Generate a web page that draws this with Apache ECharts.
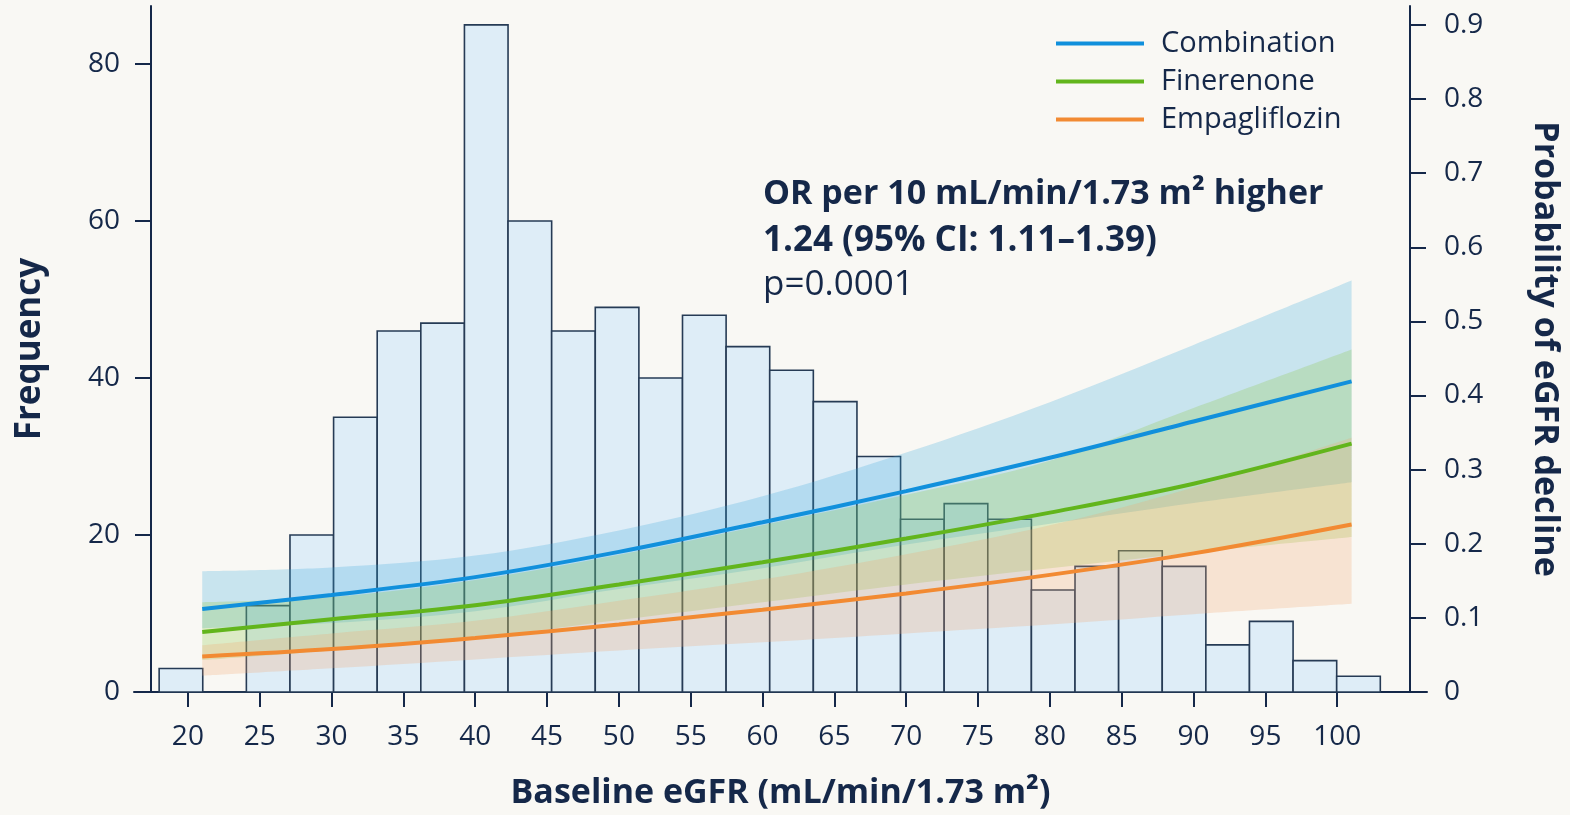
<!DOCTYPE html>
<html>
<head>
<meta charset="utf-8">
<script src="https://cdn.jsdelivr.net/npm/echarts@6/dist/echarts.min.js"></script>
<style>
  html, body { margin: 0; padding: 0; background: #f9f8f4; }
  #chart { width: 1570px; height: 815px; }
</style>
</head>
<body>
<div id="chart"></div>
<script>
// histogram of baseline eGFR: 28 equal bins between 18 and 103
const binLow = 18
const binHigh = 103
const binCounts = [3, 0, 11, 20, 35, 46, 47, 85, 60, 46, 49, 40, 48, 44, 41, 37, 30, 22, 24, 22, 13, 16, 18, 16, 6, 9, 4, 2]

// modelled probability of eGFR decline, read at these eGFR values
const curveX = [21, 30, 40, 50, 60, 70, 80, 90, 101]
const combination = [0.112, 0.131, 0.155, 0.189, 0.229, 0.271, 0.316, 0.365, 0.419]
const combinationLow = [0.086, 0.093, 0.109, 0.139, 0.167, 0.199, 0.227, 0.255, 0.283]
const combinationHigh = [0.163, 0.168, 0.184, 0.218, 0.264, 0.323, 0.391, 0.468, 0.555]
const finerenone = [0.081, 0.098, 0.117, 0.145, 0.175, 0.207, 0.242, 0.281, 0.335]
const finerenoneLow = [0.043, 0.056, 0.073, 0.097, 0.121, 0.145, 0.167, 0.188, 0.209]
const finerenoneHigh = [0.121, 0.128, 0.151, 0.185, 0.225, 0.266, 0.312, 0.383, 0.462]
const empagliflozin = [0.048, 0.058, 0.073, 0.091, 0.111, 0.133, 0.158, 0.187, 0.226]
const empagliflozinLow = [0.022, 0.032, 0.044, 0.056, 0.067, 0.079, 0.091, 0.105, 0.119]
const empagliflozinHigh = [0.063, 0.079, 0.096, 0.123, 0.152, 0.186, 0.225, 0.276, 0.343]

// tick labels
const xTicks = [20, 25, 30, 35, 40, 45, 50, 55, 60, 65, 70, 75, 80, 85, 90, 95, 100]
const freqTicks = [0, 20, 40, 60, 80]
const probTicks = [0, 0.1, 0.2, 0.3, 0.4, 0.5, 0.6, 0.7, 0.8, 0.9]

const ink = '#152849'
const font = 'Open Sans'
const smoothness = 0.35

const binWidth = (binHigh - binLow) / binCounts.length
const histData = binCounts.map((c, i) => [binLow + i * binWidth, binLow + (i + 1) * binWidth, c])

const pairs = ys => curveX.map((x, i) => [x, ys[i]])
// band data is stored [y, x] so that the stack runs on the y dimension
const flipped = ys => curveX.map((x, i) => [ys[i], x])
const diffs = (hi, lo) => curveX.map((x, i) => [hi[i] - lo[i], x])

function band(id, lo, hi, fill) {
  return [
    {
      name: id + '-low', type: 'line', yAxisIndex: 1, stack: id, smooth: smoothness,
      encode: { x: 1, y: 0 },
      symbol: 'none', silent: true, lineStyle: { opacity: 0 }, data: flipped(lo)
    },
    {
      name: id + '-band', type: 'line', yAxisIndex: 1, stack: id, smooth: smoothness,
      encode: { x: 1, y: 0 },
      symbol: 'none', silent: true, lineStyle: { opacity: 0 },
      areaStyle: { color: fill, opacity: 1 }, data: diffs(hi, lo)
    }
  ]
}

function curve(name, ys, color) {
  return {
    name, type: 'line', yAxisIndex: 1, smooth: smoothness, symbol: 'none',
    itemStyle: { color }, lineStyle: { color, width: 4 }, data: pairs(ys), z: 5
  }
}

const chart = echarts.init(document.getElementById('chart'))
chart.setOption({
  backgroundColor: '#f9f8f4',
  animation: false,
  textStyle: { fontFamily: font, color: ink },
  grid: { left: 134, right: 140, top: 6, bottom: 119 },
  legend: {
    data: ['Combination', 'Finerenone', 'Empagliflozin'],
    orient: 'vertical', left: 1051, top: 23, itemGap: 7,
    icon: 'rect', itemWidth: 88, itemHeight: 4, selectedMode: false,
    textStyle: { fontSize: 29, color: ink, fontFamily: font, lineHeight: 31, padding: [0, 0, 0, 12] }
  },
  xAxis: {
    type: 'value', min: 16.25, max: 106.25,
    name: 'Baseline eGFR (mL/min/1.73 m²)', nameLocation: 'middle', nameGap: 84,
    nameTextStyle: { fontSize: 34, fontWeight: 'bold', color: ink, fontFamily: font },
    axisLine: { lineStyle: { color: ink, width: 2 } },
    axisTick: { customValues: xTicks, length: 15, lineStyle: { color: ink, width: 2 } },
    axisLabel: { customValues: xTicks, fontSize: 28, color: ink, margin: 31 },
    splitLine: { show: false }
  },
  yAxis: [
    {
      type: 'value', min: 0, max: 87.4, position: 'left', offset: -17,
      name: 'Frequency', nameLocation: 'middle', nameGap: 103,
      nameTextStyle: { fontSize: 35, fontWeight: 'bold', color: ink, fontFamily: font },
      axisLine: { show: true, lineStyle: { color: ink, width: 2 } },
      axisTick: { show: true, customValues: freqTicks, length: 16, lineStyle: { color: ink, width: 2 } },
      axisLabel: { customValues: freqTicks, fontSize: 28, color: ink, margin: 31 },
      splitLine: { show: false }
    },
    {
      type: 'value', min: 0, max: 0.9255, position: 'right', offset: -17,
      name: 'Probability of eGFR decline', nameLocation: 'middle', nameGap: 118, nameRotate: -90,
      nameTextStyle: { fontSize: 34, fontWeight: 'bold', color: ink, fontFamily: font },
      axisLine: { show: true, lineStyle: { color: ink, width: 2 } },
      axisTick: { show: true, customValues: probTicks, length: 16, lineStyle: { color: ink, width: 2 } },
      axisLabel: { customValues: probTicks, fontSize: 28, color: ink, margin: 34 },
      splitLine: { show: false }
    }
  ],
  graphic: [
    {
      type: 'text', left: 763, top: 177,
      style: { text: 'OR per 10 mL/min/1.73 m² higher', fontSize: 34, fontWeight: 'bold', fill: ink, fontFamily: font }
    },
    {
      type: 'text', left: 763, top: 224,
      style: { text: '1.24 (95% CI: 1.11–1.39)', fontSize: 35, fontWeight: 'bold', fill: ink, fontFamily: font }
    },
    {
      type: 'text', left: 763, top: 268,
      style: { text: 'p=0.0001', fontSize: 35, fill: ink, fontFamily: font }
    }
  ],
  series: [
    {
      name: 'histogram', type: 'custom', yAxisIndex: 0, silent: true,
      encode: { x: [0, 1], y: 2 },
      data: histData,
      renderItem(params, api) {
        const top = api.coord([api.value(0), api.value(2)])
        const bottom = api.coord([api.value(1), 0])
        return {
          type: 'rect',
          shape: { x: top[0], y: top[1], width: bottom[0] - top[0], height: bottom[1] - top[1] },
          style: { fill: '#deedf7', stroke: '#263b55', lineWidth: 1.6 }
        }
      }
    },
    ...band('comb', combinationLow, combinationHigh, 'rgba(57,168,221,0.25)'),
    ...band('fin', finerenoneLow, finerenoneHigh, 'rgba(134,197,59,0.25)'),
    ...band('emp', empagliflozinLow, empagliflozinHigh, 'rgba(245,164,109,0.25)'),
    curve('Combination', combination, '#1190dc'),
    curve('Finerenone', finerenone, '#62b51c'),
    curve('Empagliflozin', empagliflozin, '#f28a32')
  ]
})
</script>
</body>
</html>
